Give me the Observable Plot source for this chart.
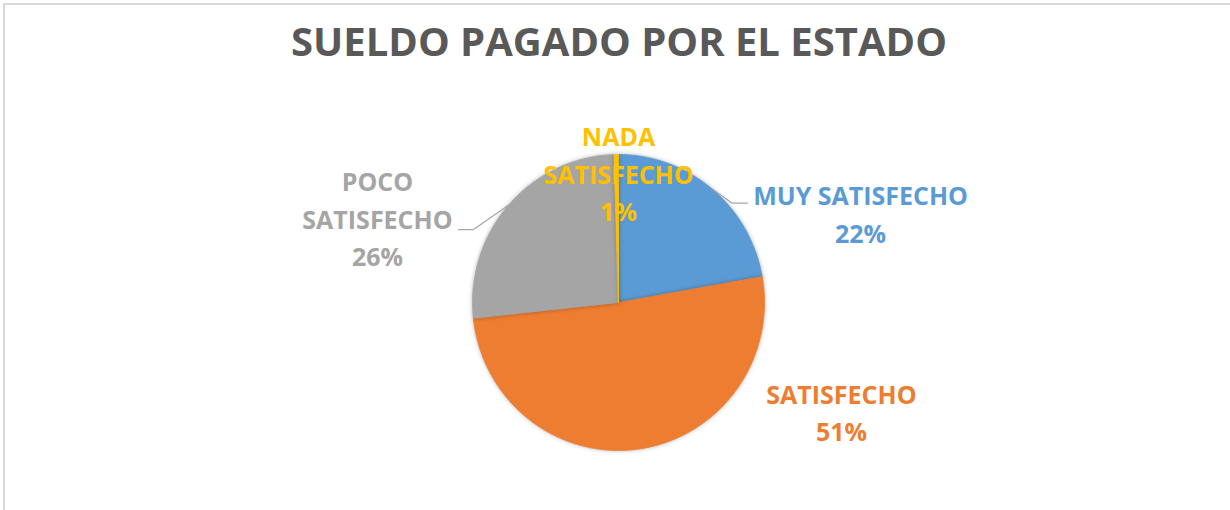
<!DOCTYPE html>
<html>
<head>
<meta charset="utf-8">
<script src="https://cdn.jsdelivr.net/npm/d3@7"></script>
<script src="https://cdn.jsdelivr.net/npm/@observablehq/plot@0.6"></script>
<style>
  body { margin: 0; background: #fff; }
  #wrap { position: relative; width: 1230px; height: 510px; overflow: hidden; font-family: "Open Sans", sans-serif; }
  #frame { position: absolute; left: 3px; top: 3px; width: 1400px; height: 700px; border-left: 2.5px solid #d9d9d9; border-top: 2.5px solid #d9d9d9; }
  #title { position: absolute; left: 4px; top: 21px; width: 1230px; text-align: center; font-size: 40px; line-height: 40px; font-weight: 700; color: #595959; white-space: nowrap; }
  #chart { position: absolute; left: 0; top: 80px; }
  #chart g[aria-label="line"]:first-of-type path { filter: drop-shadow(0 0 2px rgba(0,0,0,0.28)); }
</style>
</head>
<body>
<div id="wrap">
  <div id="frame"></div>
  <div id="title">SUELDO PAGADO POR EL ESTADO</div>
  <div id="chart"></div>
</div>
<script>
// ---- data ----
const categories = ["MUY SATISFECHO", "SATISFECHO", "POCO SATISFECHO", "NADA SATISFECHO"];
const values = [22.2, 51.1, 26.2, 0.5];
const colors = ["#5B9BD5", "#ED7D31", "#A5A5A5", "#FFC000"];
const labelLines = [["MUY SATISFECHO"], ["SATISFECHO"], ["POCO", "SATISFECHO"], ["NADA", "SATISFECHO"]];

// ---- layout (pie-radius units) ----
const labelPos = [[1.658, 0.611], [1.527, -0.730], [-1.651, 0.578], [0, 0.882]];
const leaderElbow = {0: [[0.779, 0.671], [0.883, 0.671]], 2: [[-0.993, 0.493], [-1.096, 0.493]]};

const total = d3.sum(values);
const arcs = d3.pie().sort(null).value(d => d)(values);

const slicePts = [];
arcs.forEach((a, i) => {
  const n = Math.max(2, Math.ceil((a.endAngle - a.startAngle) / (Math.PI / 360)));
  slicePts.push({name: categories[i], x: 0, y: 0});
  for (let k = 0; k <= n; k++) {
    const t = a.startAngle + (a.endAngle - a.startAngle) * k / n;
    slicePts.push({name: categories[i], x: Math.sin(t), y: Math.cos(t)});
  }
  slicePts.push({name: categories[i], x: 0, y: 0});
});

const leaderPts = [];
Object.entries(leaderElbow).forEach(([i, pts]) => {
  const a = arcs[+i];
  const m = (a.startAngle + a.endAngle) / 2;
  leaderPts.push({name: categories[i], x: Math.sin(m), y: Math.cos(m)});
  pts.forEach(p => leaderPts.push({name: categories[i], x: p[0], y: p[1]}));
});

const labels = categories.map((c, i) => ({
  name: c,
  x: labelPos[i][0],
  y: labelPos[i][1],
  text: labelLines[i].join("\n") + "\n" + Math.round(values[i] / total * 100) + "%"
}));

const chart = Plot.plot({
  width: 1230,
  height: 430,
  margin: 0,
  style: {fontFamily: "Open Sans, sans-serif", background: "transparent", overflow: "visible"},
  x: {domain: [-1, 1], range: [472, 764], axis: null},
  y: {domain: [-1, 1], range: [370, 74], axis: null},
  color: {domain: categories, range: colors},
  marks: [
    Plot.line(slicePts, {x: "x", y: "y", z: "name", fill: "name", stroke: "name", strokeWidth: 0.8, curve: "linear"}),
    Plot.line(leaderPts, {x: "x", y: "y", z: "name", stroke: "#a6a6a6", strokeWidth: 1.2, curve: "linear"}),
    Plot.text(labels, {x: "x", y: "y", text: "text", fill: "name", fontSize: 25, fontWeight: "bold", lineHeight: 1.5, textAnchor: "middle", lineAnchor: "middle"})
  ]
});
document.getElementById("chart").appendChild(chart);
</script>
</body>
</html>
